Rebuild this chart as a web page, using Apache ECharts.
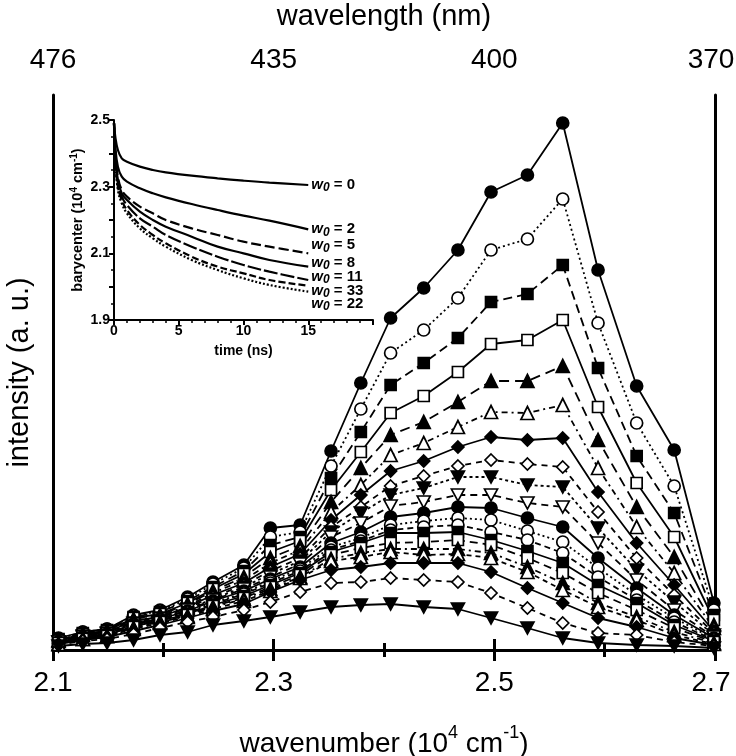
<!DOCTYPE html>
<html><head><meta charset="utf-8">
<script src="https://cdn.jsdelivr.net/npm/echarts@6/dist/echarts.min.js"></script>
<style>html,body{margin:0;padding:0;background:#fff}#c{width:736px;height:756px}</style>
</head><body><div id="c"></div>
<script>
// ---- main spectra: x positions (10^4 cm^-1) ----
const wavenumber = [2.105, 2.127, 2.149, 2.173, 2.197, 2.222, 2.245, 2.273, 2.297, 2.324, 2.352, 2.379, 2.406, 2.436, 2.467, 2.497, 2.530, 2.562, 2.594, 2.629, 2.663, 2.699];
// top axis tick labels (wavelength, nm) at 2.1, 2.3, 2.5, 2.7
const wavelengthTicks = ['476', '435', '400', '370'];
const wavenumberTicks = ['2.1', '2.3', '2.5', '2.7'];
// intensities (a.u.)
const spec1  = [12,18,21,35,40,53,68,85,122,125,199,267,332,362,400,458,475,527,380,264,200,47];
const spec2  = [11,18,21,34,39,51,66,82,113,118,184,241,297,320,352,400,411,451,327,227,164,40];
const spec3  = [11,17,20,33,38,49,63,79,105,113,172,218,265,287,312,348,356,385,282,194,137,35];
const spec4  = [10,16,19,32,36,47,61,76,98,109,160,198,237,254,278,306,310,330,243,167,113,30];
const spec5  = [10,16,19,31,35,46,59,73,92,104,148,182,215,228,248,269,269,284,210,143,93,25];
const spec6  = [9,15,18,30,34,44,57,70,87,100,138,165,195,207,223,238,237,245,182,123,77,22];
const spec7  = [9,15,18,29,33,43,55,67,83,96,130,155,179,189,203,213,210,212,158,107,65,19];
const spec8  = [9,14,17,28,32,42,53,65,79,92,123,143,164,174,184,190,186,183,138,92,55,17];
const spec9  = [8,14,17,27,32,41,51,63,76,89,118,137,155,162,173,173,165,163,122,80,48,15];
const spec10 = [8,13,16,26,31,40,50,61,73,86,113,127,144,148,155,155,147,143,107,70,40,13];
const spec11 = [8,13,16,26,31,39,49,59,71,83,107,118,133,137,143,142,132,123,92,62,35,12];
const spec12 = [7,12,15,25,30,38,47,57,69,81,103,112,125,129,132,130,119,108,82,55,32,11];
const spec13 = [7,12,15,24,30,37,46,56,67,79,100,109,120,123,125,118,110,97,73,50,28,10];
const spec14 = [7,12,15,24,29,36,45,54,65,77,98,107,117,117,118,110,99,87,65,47,25,9];
const spec15 = [7,11,14,23,28,35,44,52,63,75,95,102,107,108,110,105,92,77,57,40,22,8];
const spec16 = [6,11,14,22,28,34,43,51,61,73,91,97,101,101,101,97,83,67,47,33,18,7];
const spec17 = [6,11,14,21,27,33,41,49,59,72,89,93,98,95,96,92,78,60,43,30,15,6];
const spec18 = [6,10,13,19,25,32,39,46,58,70,80,83,87,87,87,78,62,47,32,23,12,5];
const spec19 = [5,9,11,16,22,28,33,40,48,58,67,68,72,70,68,57,42,27,17,15,8,4];
const spec20 = [4,6,7,10,15,18,25,29,33,38,43,45,46,43,41,32,22,12,7,5,4,2];

// ---- inset: barycenter vs time ----
const time = [0, 0.1, 0.3, 0.6, 1, 2, 3, 4, 6, 8, 10, 12, 15];
const bary_w0_0  = [2.49, 2.45, 2.41, 2.385, 2.375, 2.36, 2.35, 2.343, 2.333, 2.325, 2.318, 2.312, 2.305];
const bary_w0_2  = [2.49, 2.42, 2.36, 2.33, 2.315, 2.295, 2.28, 2.268, 2.248, 2.23, 2.213, 2.198, 2.172];
const bary_w0_5  = [2.49, 2.40, 2.33, 2.29, 2.27, 2.24, 2.22, 2.20, 2.175, 2.155, 2.135, 2.12, 2.10];
const bary_w0_8  = [2.49, 2.40, 2.32, 2.28, 2.26, 2.225, 2.20, 2.18, 2.15, 2.12, 2.10, 2.08, 2.06];
const bary_w0_11 = [2.49, 2.39, 2.31, 2.27, 2.245, 2.205, 2.18, 2.155, 2.12, 2.09, 2.065, 2.045, 2.02];
const bary_w0_33 = [2.49, 2.38, 2.30, 2.26, 2.23, 2.185, 2.155, 2.13, 2.09, 2.06, 2.04, 2.02, 2.003];
const bary_w0_22 = [2.49, 2.38, 2.29, 2.25, 2.22, 2.175, 2.145, 2.12, 2.08, 2.05, 2.025, 2.005, 1.985];
const insetLabels = ['0', '2', '5', '8', '11', '33', '22'];
const insetXTicks = ['0', '5', '10', '15'];
const insetYTicks = ['1.9', '2.1', '2.3', '2.5'];

// ---- styles ----
const specs = [spec1,spec2,spec3,spec4,spec5,spec6,spec7,spec8,spec9,spec10,spec11,spec12,spec13,spec14,spec15,spec16,spec17,spec18,spec19,spec20];
const TRI_DOWN = 'path://M0,0 L10,0 L5,9 Z';
const markers = [
  ['circle',true],['circle',false],['rect',true],['rect',false],['triangle',true],['triangle',false],
  ['diamond',true],['diamond',false],[TRI_DOWN,true],[TRI_DOWN,false],
  ['circle',true],['circle',false],['circle',false],['rect',true],['rect',false],['triangle',true],['triangle',false],
  ['diamond',true],['diamond',false],[TRI_DOWN,true]
];
const sizes = {circle:12, rect:11, triangle:13, diamond:12};
const dashes = ['solid',[2,3],[9,5],'solid',[10,6],[6,4,2,4],'solid',[6,5],[3,3],[7,5],
                'solid',[2,3],[6,4],'solid',[8,5],[6,4,2,4],[5,4],'solid',[6,5],'solid'];
const narrow = "'Liberation Sans Narrow','Liberation Sans',Arial,sans-serif";
const sans = "'Liberation Sans',Arial,sans-serif";
const FS = 28;

const series = [];
specs.forEach((s, k) => {
  const [sym, filled] = markers[k];
  series.push({
    type: 'line', xAxisIndex: 0, yAxisIndex: 0,
    data: s.map((v, i) => [wavenumber[i], v]),
    symbol: sym,
    symbolSize: sym === TRI_DOWN ? [13, 12] : sizes[sym],
    showAllSymbol: true,
    lineStyle: {color: '#000', width: 1.8, type: dashes[k]},
    itemStyle: {color: filled ? '#000' : '#fff', borderColor: '#000', borderWidth: 1.7},
    z: 3, animation: false
  });
});

const insetSets = [bary_w0_0, bary_w0_2, bary_w0_5, bary_w0_8, bary_w0_11, bary_w0_33, bary_w0_22];
const insetDash = ['solid','solid',[10,4],'solid',[14,3],[7,3],[2,2]];
const insetOff = [0, 0, -8, -4, -3, 5, 12];
insetSets.forEach((s, k) => {
  series.push({
    type: 'line', xAxisIndex: 2, yAxisIndex: 2,
    data: s.map((v, i) => [time[i], v]),
    symbol: 'none', smooth: 0.4,
    lineStyle: {color: '#000', width: 2.2, type: insetDash[k]},
    endLabel: {
      show: true, distance: 3, offset: [0, insetOff[k]],
      formatter: () => '{i|w}{s|0}{n| = ' + insetLabels[k] + '}',
      rich: {
        i: {fontFamily: sans, fontStyle: 'italic', fontWeight: 'bold', fontSize: 15, color: '#000', lineHeight: 18, verticalAlign: 'middle'},
        s: {fontFamily: sans, fontStyle: 'italic', fontWeight: 'bold', fontSize: 12, color: '#000', lineHeight: 18, verticalAlign: 'bottom'},
        n: {fontFamily: sans, fontWeight: 'bold', fontSize: 15, color: '#000', lineHeight: 18, verticalAlign: 'middle'}
      }
    },
    animation: false
  });
});

const chart = echarts.init(document.getElementById('c'), null, {renderer: 'canvas'});
const axisLine = {show: true, lineStyle: {color: '#000', width: 3}};
const edgeRich = {e: {fontFamily: narrow, fontSize: FS, color: '#000', padding: [0, 8, 0, 0]}};
chart.setOption({
  backgroundColor: '#fff',
  animation: false,
  grid: [
    {left: 53, top: 95, width: 662, height: 555, containLabel: false, outerBoundsMode: 'none'},
    {left: 114, top: 120, width: 259, height: 200, containLabel: false, outerBoundsMode: 'none'}
  ],
  xAxis: [
    {
      gridIndex: 0, type: 'value', min: 2.1, max: 2.7, interval: 0.2, position: 'bottom',
      axisLine, splitLine: {show: false},
      axisTick: {show: true, length: 11, lineStyle: {width: 3, color: '#000'}},
      minorTick: {show: true, splitNumber: 2, length: 7, lineStyle: {width: 3, color: '#000'}},
      axisLabel: {margin: 19, fontFamily: narrow, fontSize: FS, color: '#000', rich: edgeRich,
        formatter: (v, i) => i === 3 ? '{e|' + wavenumberTicks[i] + '}' : (wavenumberTicks[i] || '')},
      name: '{a|wavenumber (10}{b|4}{a| cm}{b|-1}{a|)}', nameLocation: 'middle', nameGap: 74,
      nameTextStyle: {rich: {
        a: {fontFamily: narrow, fontSize: FS, color: '#000', lineHeight: 34, verticalAlign: 'bottom'},
        b: {fontFamily: narrow, fontSize: 18, color: '#000', lineHeight: 34, verticalAlign: 'top'}
      }}
    },
    {
      gridIndex: 0, type: 'value', min: 2.1, max: 2.7, interval: 0.2, position: 'top',
      axisLine, splitLine: {show: false},
      axisTick: {show: true, length: 11, lineStyle: {width: 3, color: '#000'}},
      minorTick: {show: true, splitNumber: 2, length: 7, lineStyle: {width: 3, color: '#000'}},
      axisLabel: {margin: 21, fontFamily: narrow, fontSize: FS, color: '#000', rich: edgeRich,
        formatter: (v, i) => i === 3 ? '{e|' + wavelengthTicks[i] + '}' : (wavelengthTicks[i] || '')},
      name: 'wavelength (nm)', nameLocation: 'middle', nameGap: 64,
      nameTextStyle: {fontFamily: narrow, fontSize: FS + 1, color: '#000'}
    },
    {
      gridIndex: 1, type: 'value', min: 0, max: 20, interval: 5,
      axisLine: {show: true, lineStyle: {color: '#000', width: 2}}, splitLine: {show: false},
      axisTick: {show: true, length: 5, lineStyle: {width: 2, color: '#000'}},
      minorTick: {show: true, splitNumber: 5, length: 3, lineStyle: {width: 1.5, color: '#000'}},
      axisLabel: {margin: 4, fontFamily: sans, fontWeight: 'bold', fontSize: 14, color: '#000',
        formatter: (v, i) => insetXTicks[i] || ''},
      name: 'time (ns)', nameLocation: 'middle', nameGap: 24,
      nameTextStyle: {fontFamily: sans, fontWeight: 'bold', fontSize: 14, color: '#000'}
    }
  ],
  yAxis: [
    {
      gridIndex: 0, type: 'value', min: 0, max: 555, position: 'left',
      axisLine, axisTick: {show: false}, axisLabel: {show: false}, splitLine: {show: false},
      name: 'intensity (a. u.)', nameLocation: 'middle', nameGap: 19,
      nameTextStyle: {fontFamily: narrow, fontSize: FS + 1, color: '#000'}
    },
    {
      gridIndex: 0, type: 'value', min: 0, max: 555, position: 'right',
      axisLine, axisTick: {show: false}, axisLabel: {show: false}, splitLine: {show: false}
    },
    {
      gridIndex: 1, type: 'value', min: 1.9, max: 2.5, interval: 0.1,
      axisLine: {show: true, lineStyle: {color: '#000', width: 2}}, splitLine: {show: false},
      axisTick: {show: true, length: 5, lineStyle: {width: 2, color: '#000'}},
      minorTick: {show: true, splitNumber: 2, length: 3, lineStyle: {width: 1.5, color: '#000'}},
      axisLabel: {margin: 4, fontFamily: sans, fontWeight: 'bold', fontSize: 14, color: '#000',
        formatter: (v, i) => (i % 2 === 0 ? insetYTicks[i / 2] : '')},
      name: '{a|barycenter (10}{b|4}{a| cm}{b|-1}{a|)}', nameLocation: 'middle', nameGap: 29,
      nameTextStyle: {rich: {
        a: {fontFamily: sans, fontWeight: 'bold', fontSize: 14.5, color: '#000', lineHeight: 16, verticalAlign: 'bottom'},
        b: {fontFamily: sans, fontWeight: 'bold', fontSize: 10, color: '#000', lineHeight: 16, verticalAlign: 'top'}
      }}
    }
  ],
  series
});
</script></body></html>
